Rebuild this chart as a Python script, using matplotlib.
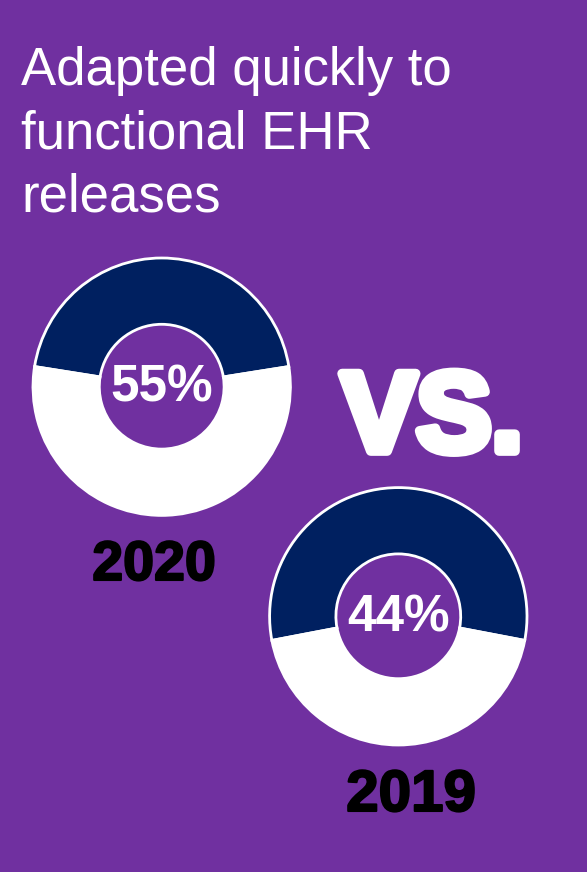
import matplotlib
matplotlib.use("Agg")
import matplotlib.pyplot as plt
import matplotlib.patheffects as pe

# Data
years = ["2020", "2019"]
adapted_pct = [55, 44]          # share shown in each donut label
title_lines = ["Adapted quickly to", "functional EHR", "releases"]

# Colours
BG = "#7030A0"
NAVY = "#002060"
WHITE = "#FFFFFF"

W, H = 587, 872
fig = plt.figure(figsize=(W / 100, H / 100), dpi=100)
fig.patch.set_facecolor(BG)

FONT = "Liberation Sans"


def px(x, y):
    """Pixel (from top-left) to figure fraction."""
    return x / W, 1 - y / H


# Title
baselines = [85, 148.5, 211.5]
for line, yb in zip(title_lines, baselines):
    fig.text(*px(21, yb), line, color=WHITE, fontsize=38, family=FONT,
             ha="left", va="baseline")

# Donuts
centers = [(161.7, 386.7), (398.3, 616.3)]
year_pos = [(154, 566), (411, 796)]
year_size = [40, 42]
R = 130
for (cx, cy), pct, year, (yx, yy), ys in zip(centers, adapted_pct, years,
                                             year_pos, year_size):
    ax = fig.add_axes([(cx - R) / W, (H - cy - R) / H, 2 * R / W, 2 * R / H])
    rest = 100 - pct
    start = 90 - rest * 3.6 / 2
    wedges, _ = ax.pie([rest, pct], colors=[NAVY, WHITE], startangle=start,
                       radius=0.99, counterclock=True,
                       wedgeprops=dict(width=0.51, edgecolor=WHITE, linewidth=2))
    for w in wedges:
        w.set_clip_on(False)
    ax.set_xlim(-1, 1)
    ax.set_ylim(-1, 1)
    ax.set_aspect("equal")
    ax.axis("off")
    ax.text(0, -0.01, f"{pct}%", color=WHITE, fontsize=37, fontweight="bold",
            family=FONT, ha="center", va="center")
    # year label under each donut
    fig.text(*px(yx, yy), year, color="black", fontsize=ys, fontweight="bold",
             family=FONT, ha="center", va="center",
             path_effects=[pe.withStroke(linewidth=1.5, foreground="black")])

# "VS." separator
fig.text(*px(432, 422), "VS.", color=WHITE, fontsize=81, fontweight="bold",
         family=FONT, ha="center", va="center",
         path_effects=[pe.withStroke(linewidth=7, foreground=WHITE)])

fig.savefig("out.png", dpi=100, facecolor=BG)
